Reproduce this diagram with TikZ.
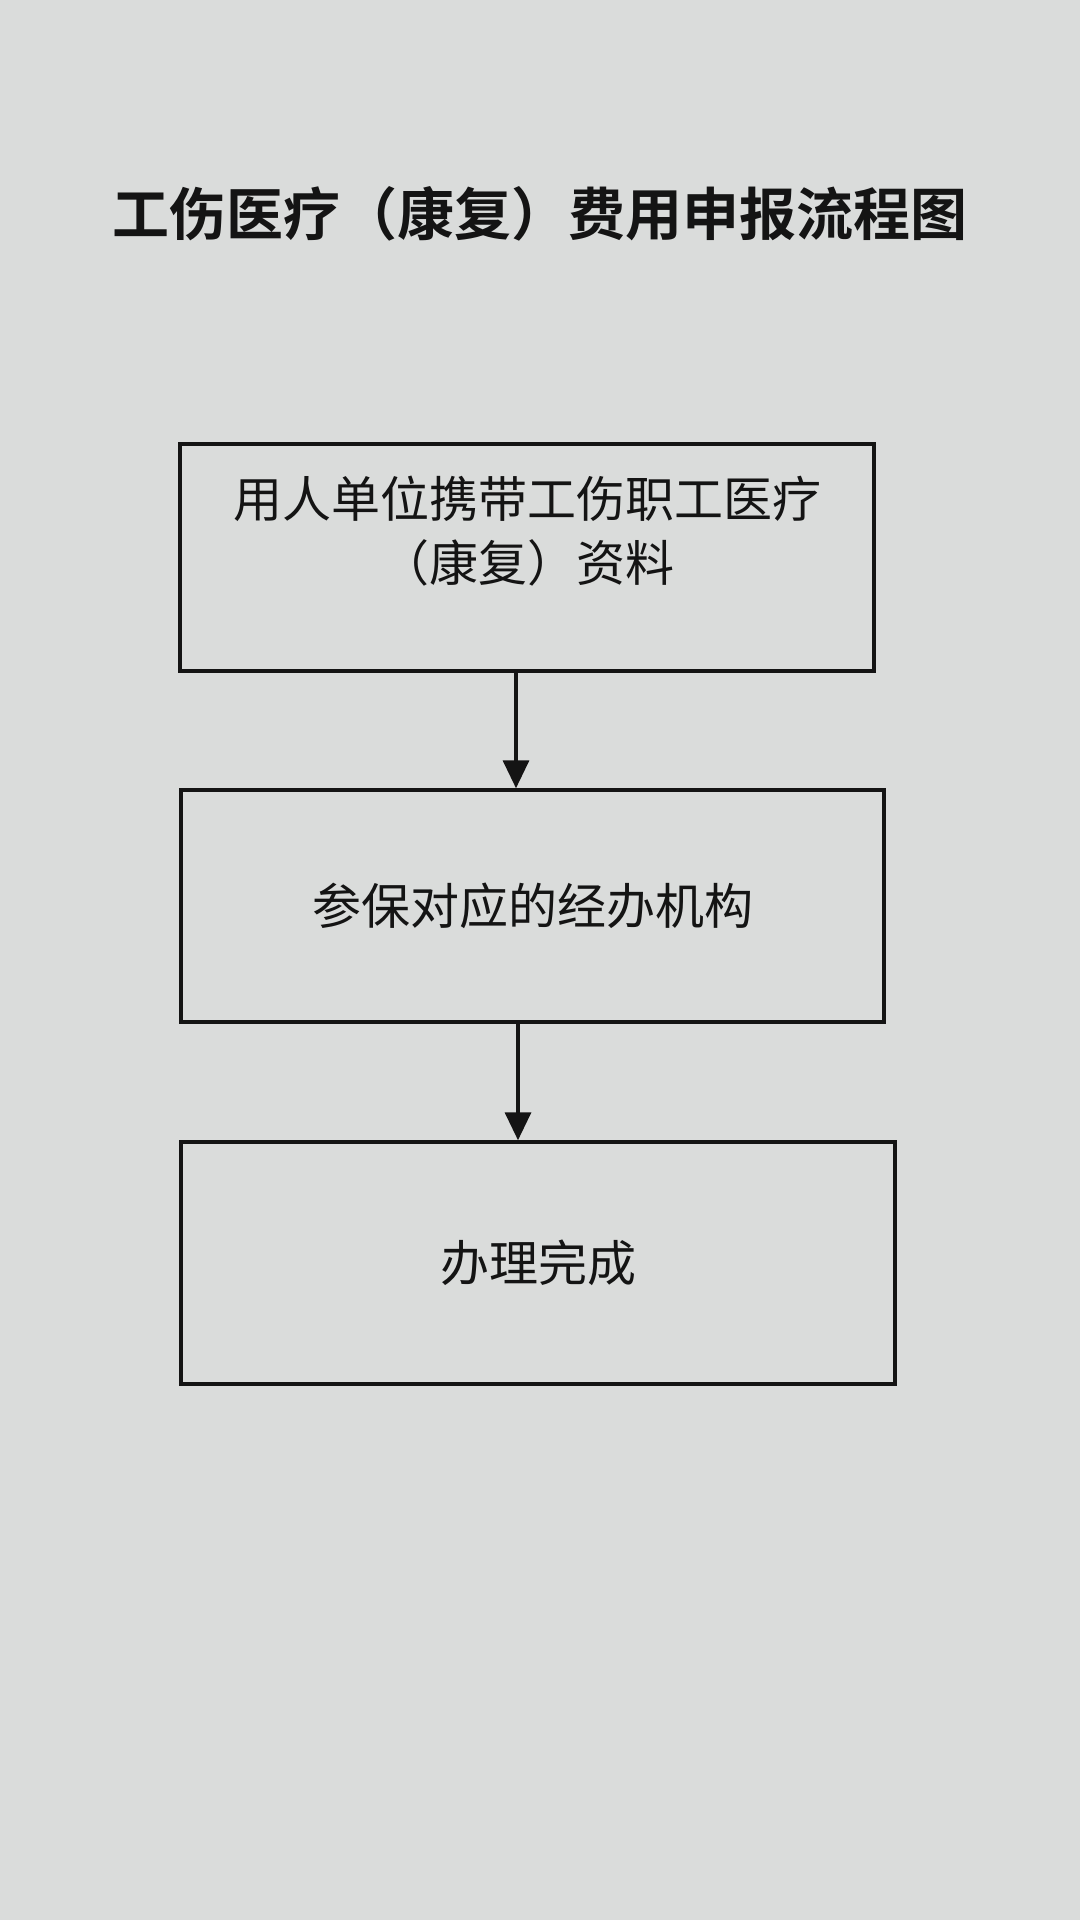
\documentclass[tikz,border=0pt]{standalone}
\usepackage{fontspec}
\newfontfamily\cjk{Noto Sans CJK SC}
\newfontfamily\cjkbold{Noto Sans CJK SC Bold}
\usetikzlibrary{arrows.meta}
\definecolor{paper}{RGB}{218,220,219}
\definecolor{ink}{RGB}{20,20,20}
\tikzset{
  flowbox/.style={draw=ink, line width=3.5pt, minimum width=#1, inner sep=0pt, text=ink, align=center, font=\cjk\fontsize{49}{64}\selectfont},
  flowarrow/.style={draw=ink, line width=3.5pt, -{Triangle[length=28pt,width=26pt]}}
}
\begin{document}
\begin{tikzpicture}[x=1pt,y=-1pt]
\fill[paper] (0,0) rectangle (1080,1920);
\useasboundingbox (0,0) rectangle (1080,1920);
\node[text=ink, font=\cjkbold\fontsize{57}{60}\selectfont] (title) at (540,214) {工伤医疗（康复）费用申报流程图};
\node[flowbox=694pt, minimum height=227pt, text height=0pt, text depth=0pt] (b1) at (527,557.5) {};
\node[text=ink, align=center, font=\cjk\fontsize{49}{64}\selectfont] (t1) at (527,531) {用人单位携带工伤职工医疗\\（康复）资料};
\node[flowbox=703pt, minimum height=232pt] (b2) at (532.5,906) {参保对应的经办机构};
\node[flowbox=714pt, minimum height=242pt] (b3) at (538,1263) {办理完成};
\draw[flowarrow] (b1.south -| 516,0) -- (b2.north -| 516,0);
\draw[flowarrow] (b2.south -| 518,0) -- (b3.north -| 518,0);
\end{tikzpicture}
\end{document}
